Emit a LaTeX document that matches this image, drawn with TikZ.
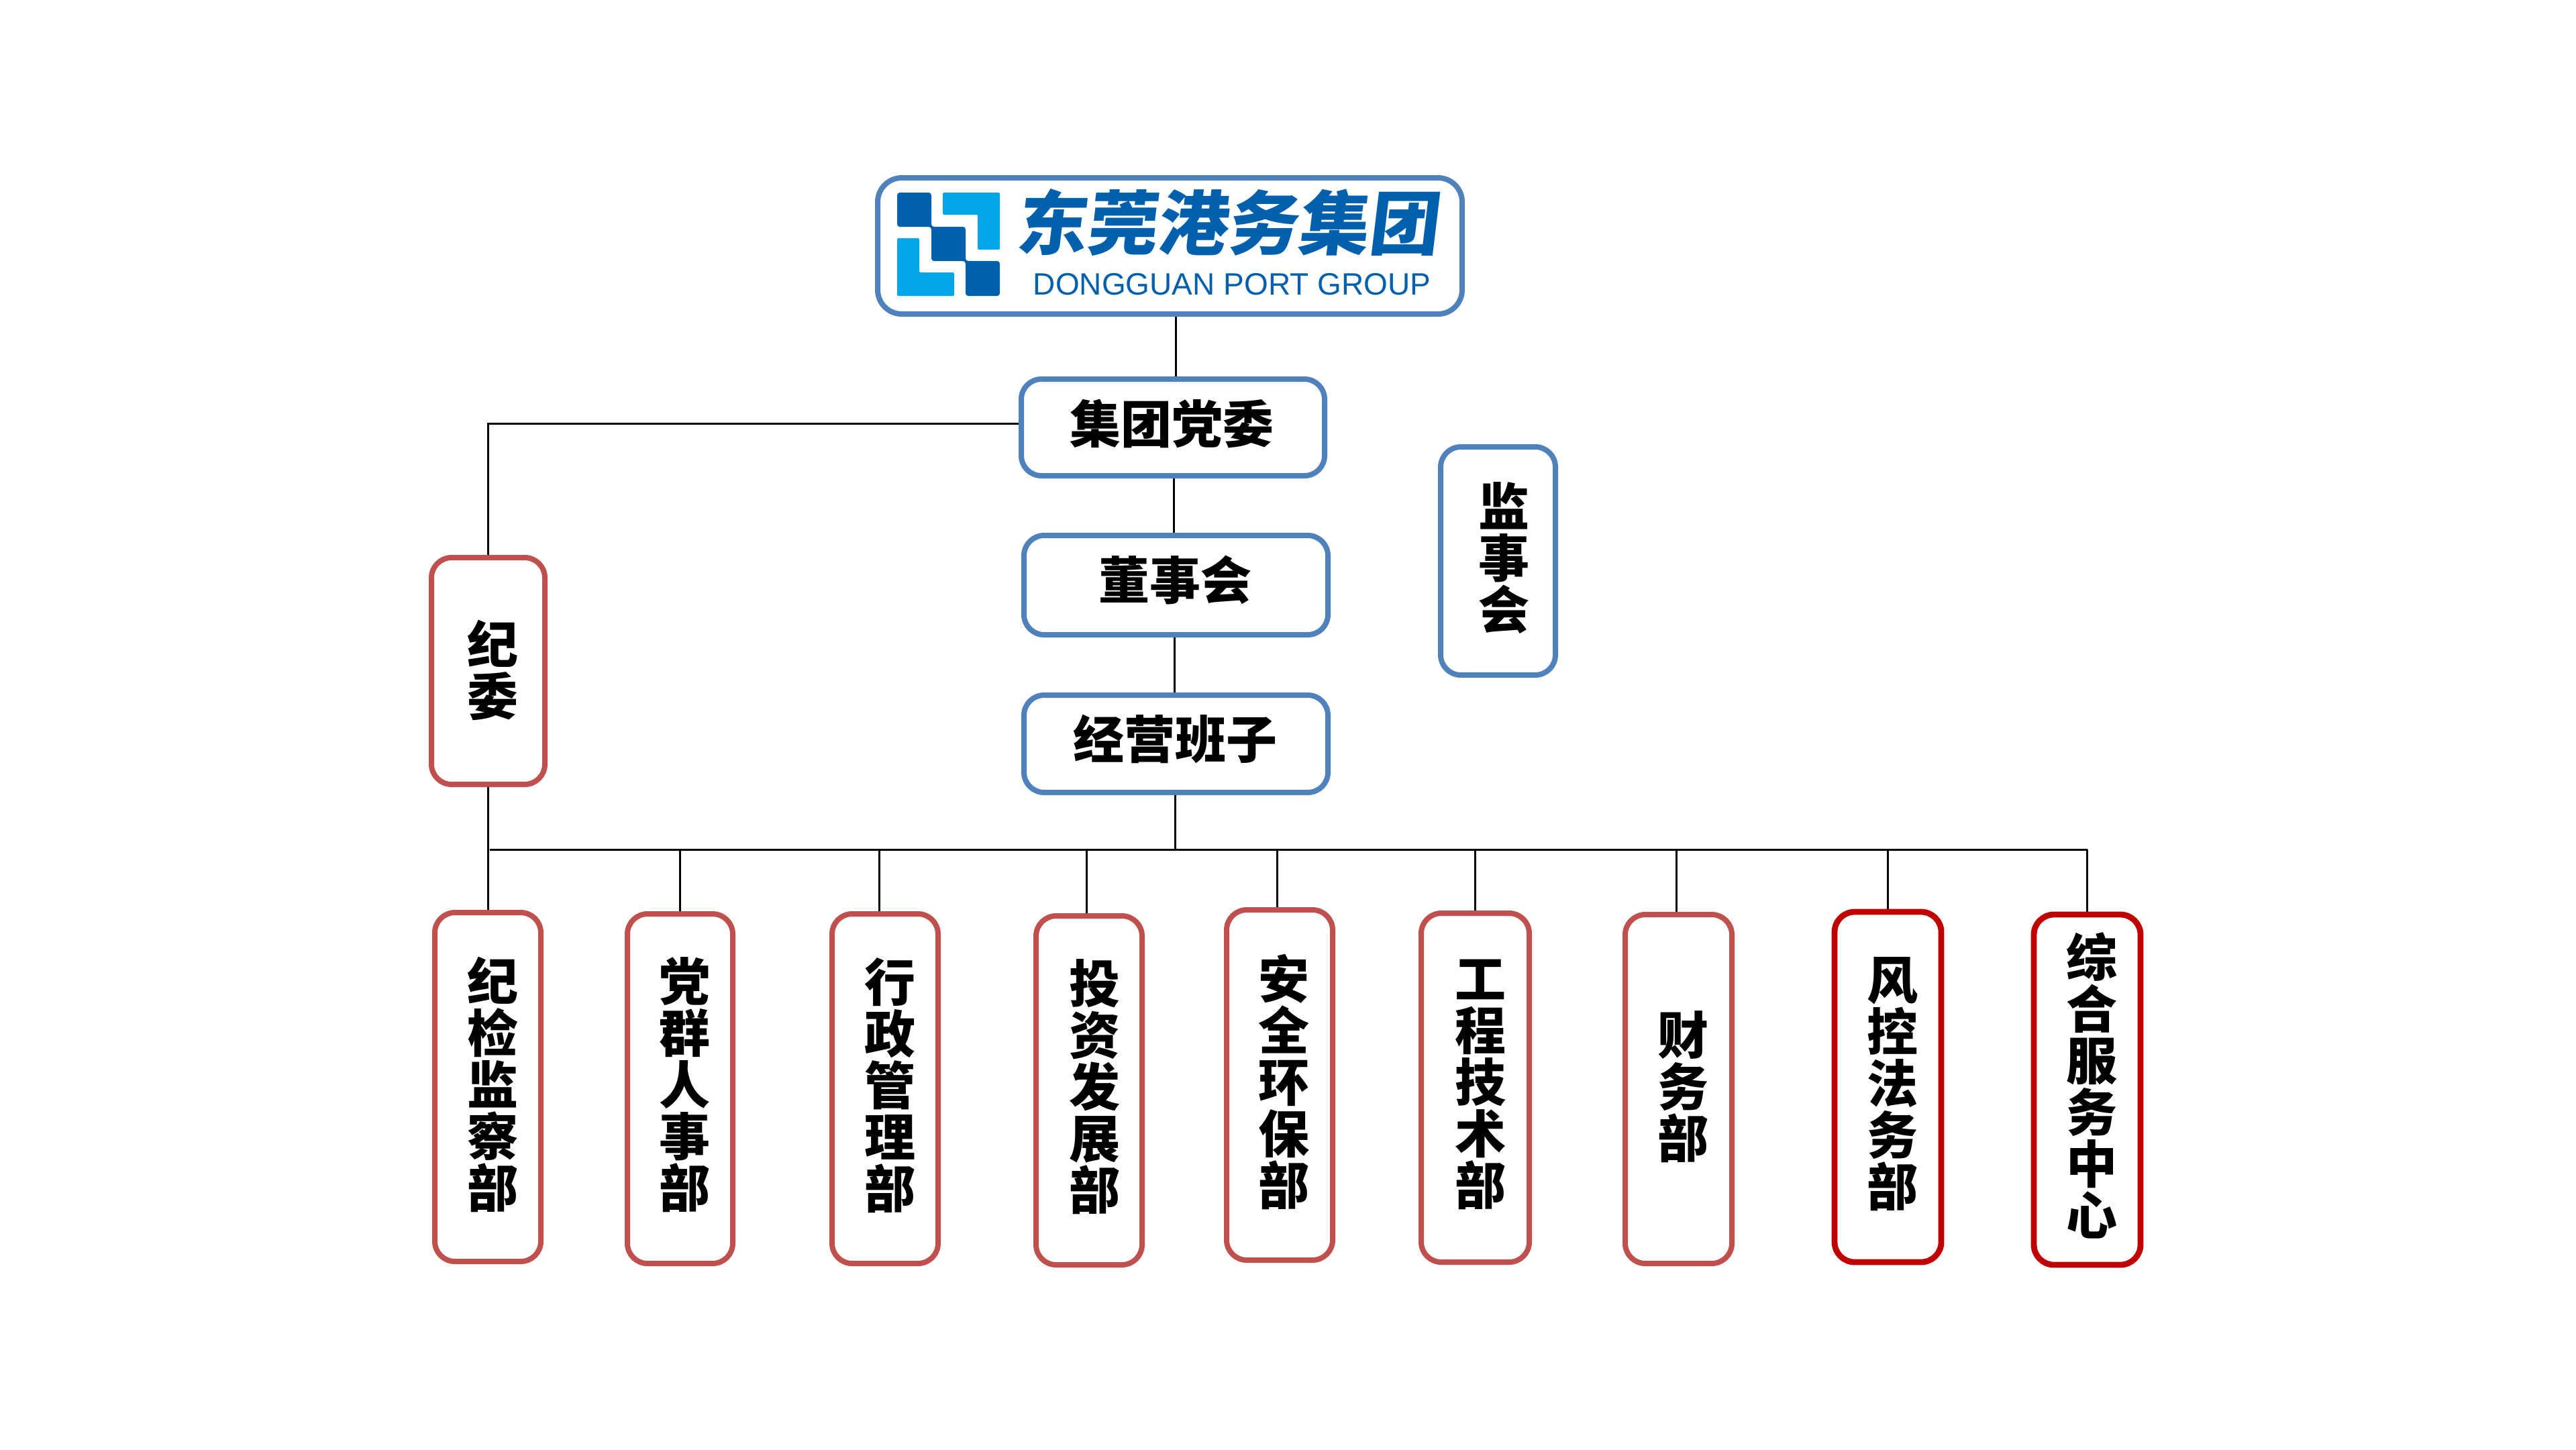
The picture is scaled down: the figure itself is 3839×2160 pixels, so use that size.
\documentclass[tikz,border=0pt]{standalone}
\usepackage{fontspec}
\setmainfont{Liberation Sans}
\newfontfamily\cjk{Noto Sans CJK SC}
\definecolor{bluebd}{HTML}{4F81BD}
\definecolor{redbd}{HTML}{C0504D}
\definecolor{darkbd}{HTML}{C00000}
\definecolor{logodark}{HTML}{0060AE}
\definecolor{logolight}{HTML}{00A6E8}
\tikzset{
  orgframe/.style={draw,fill=white,line width=4pt,rounded corners=15pt,inner sep=0pt},
  blueframe/.style={orgframe,draw=bluebd},
  redframe/.style={orgframe,draw=redbd},
  darkframe/.style={orgframe,draw=darkbd,line width=4.4pt},
  orgtext/.style={inner sep=0pt,align=center,text=black,font=\cjk\bfseries\fontsize{38}{38.5}\selectfont},
  link/.style={draw=black,line width=1.5pt},
}
\newcommand\orgbox[9]{%
  \pgfmathsetmacro\bw{(#4-#3-8)*0.5}%
  \pgfmathsetmacro\bh{(#6-#5-8)*0.5}%
  \pgfmathsetmacro\bx{(#3+#4)/2}%
  \pgfmathsetmacro\by{(#5+#6)/2}%
  \node[#1,minimum width=\bw pt,minimum height=\bh pt] (#2) at (\bx,\by) {};
  \node[orgtext] (#2text) at (#8,#9) {#7};
}
\begin{document}
\begin{tikzpicture}[x=0.5pt,y=-0.5pt]
\useasboundingbox[fill=white] (0,0) rectangle (3839,2160);
% boxes
\pgfmathsetmacro\bw{(2183-1304-8)*0.5}
\pgfmathsetmacro\bh{(472-261-8)*0.5}
\node[blueframe,rounded corners=18pt,minimum width=\bw pt,minimum height=\bh pt] (logo) at (1743.5,366.5) {};
\orgbox{blueframe}{party}{1518}{1978}{561}{713}{集团党委}{1746}{631}
\orgbox{blueframe}{board}{1522}{1983}{794}{950}{董事会}{1751}{864}
\orgbox{blueframe}{mgmt}{1522}{1983}{1032}{1185}{经营班子}{1751}{1101}
\orgbox{blueframe}{superv}{2143}{2322}{662}{1010}{监\\事\\会}{2241}{832}
\orgbox{redframe}{disc}{639}{816}{827}{1173}{纪\\委}{734}{999}
\orgbox{redframe}{d1}{644}{810}{1356}{1884}{纪\\检\\监\\察\\部}{734}{1616}
\orgbox{redframe}{d2}{931}{1096}{1358}{1887}{党\\群\\人\\事\\部}{1020}{1617}
\orgbox{redframe}{d3}{1236}{1402}{1358}{1887}{行\\政\\管\\理\\部}{1326}{1618}
\orgbox{redframe}{d4}{1540}{1706}{1361}{1889}{投\\资\\发\\展\\部}{1631}{1620}
\orgbox{redframe}{d5}{1824}{1990}{1352}{1882}{安\\全\\环\\保\\部}{1913}{1612}
\orgbox{redframe}{d6}{2114}{2283}{1357}{1885}{工\\程\\技\\术\\部}{2206}{1616}
\orgbox{redframe}{d7}{2418}{2585}{1359}{1887}{财\\务\\部}{2508}{1620}
\orgbox{darkframe}{d8}{2730}{2897}{1355}{1885}{风\\控\\法\\务\\部}{2820}{1616}
\orgbox{darkframe}{d9}{3027}{3194}{1359}{1889}{综\\合\\服\\务\\中\\心}{3117}{1618}
% logo
\fill[logodark,rounded corners=2pt] (1337,287) -- (1388,287) -- (1388,338) -- (1439,338) -- (1439,389) -- (1490,389) -- (1490,441) -- (1439,441) -- (1439,389) -- (1388,389) -- (1388,338) -- (1337,338) -- cycle;
\fill[logolight,rounded corners=1pt] (1405,287) -- (1490,287) -- (1490,372) -- (1457,372) -- (1457,320) -- (1405,320) -- cycle;
\fill[logolight,rounded corners=1pt] (1337,355) -- (1370,355) -- (1370,406) -- (1422,406) -- (1422,441) -- (1337,441) -- cycle;
\node[inner sep=0pt,text=logodark,font=\cjk\bfseries\fontsize{52}{52}\selectfont,xslant=0.12,xscale=1.01] (logocn) at (1833,331) {东莞港务集团};
\node[inner sep=0pt,text=logodark,font=\fontsize{23}{23}\selectfont] (logoen) at (1836,424) {DONGGUAN PORT GROUP};
% connector helpers
\coordinate (c1) at (1752,0);
\coordinate (c2) at (1749,0);
\coordinate (c3) at (1750,0);
\coordinate (c4) at (1751,0);
\coordinate (ctl) at (727,631);
\coordinate (busy) at (0,1266);
\coordinate (busl) at (730,1266);
\coordinate (busr) at (3111,1266);
\draw[link] (logo.south -| c1) -- (party.north -| c1);
\draw[link] (party.south -| c2) -- (board.north -| c2);
\draw[link] (board.south -| c3) -- (mgmt.north -| c3);
\draw[link] (mgmt.south -| c4) -- (c4 |- busy);
\draw[link] (party.west |- ctl) -- (ctl) -- (ctl |- disc.north);
\coordinate (c5) at (727,0);
\draw[link] (c5 |- disc.south) -- (c5 |- d1.north);
\draw[link] (busl) -- (busr);
\foreach \n/\px in {d2/1013,d3/1310,d4/1619,d5/1903,d6/2198,d7/2498,d8/2813,d9/3110}{
  \coordinate (stub) at (\px,1266);
  \draw[link] (stub) -- (stub |- \n.north);
}
\end{tikzpicture}
\end{document}
